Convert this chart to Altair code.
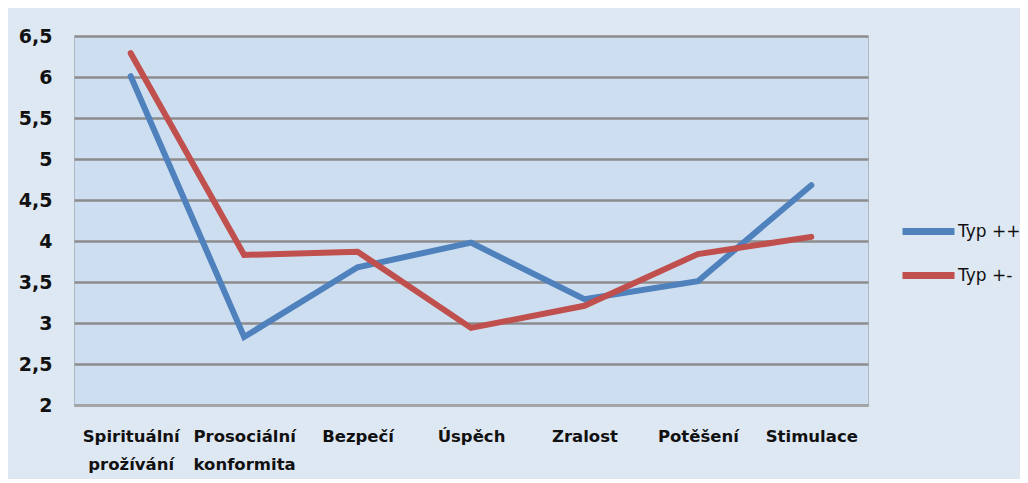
import altair as alt
import pandas as pd

categories = ["Spirituální prožívání", "Prosociální konformita", "Bezpečí", "Úspěch",
              "Zralost", "Potěšení", "Stimulace"]
typ_pp = [6.01, 2.83, 3.68, 3.98, 3.29, 3.51, 4.68]
typ_pm = [6.29, 3.83, 3.87, 2.94, 3.21, 3.84, 4.05]
series_names = ["Typ ++", "Typ +-"]
y_ticks = [2, 2.5, 3, 3.5, 4, 4.5, 5, 5.5, 6, 6.5]

rows = []
for name, vals in zip(series_names, [typ_pp, typ_pm]):
    for i, (c, v) in enumerate(zip(categories, vals)):
        rows.append({"kat": c, "hodnota": v, "typ": name, "order": i})
df = pd.DataFrame(rows)

chart = alt.Chart(df).mark_line(strokeWidth=6, strokeCap="round").encode(
    x=alt.X("kat:N", sort=categories, title=None,
            scale=alt.Scale(padding=0.5),
            axis=alt.Axis(labelAngle=0, labelExpr="split(datum.label, ' ')",
                          labelFont="DejaVu Sans", labelFontWeight="bold", labelFontSize=16.5,
                          labelColor="#111111", labelPadding=23, labelLineHeight=28,
                          ticks=False, domainColor="#a6a6a6", domainWidth=2,
                          grid=False, labelBaseline="top")),
    y=alt.Y("hodnota:Q", title=None,
            scale=alt.Scale(domain=[2, 6.5], nice=False, zero=False),
            axis=alt.Axis(values=y_ticks,
                          labelExpr="replace(toString(datum.value), '.', ',')",
                          labelFont="DejaVu Sans", labelFontWeight="bold", labelFontSize=19,
                          labelColor="#111111", labelPadding=22, ticks=False,
                          domain=False, grid=True, gridColor="#8c8c8c", gridWidth=2.5)),
    color=alt.Color("typ:N", sort=series_names, title=None,
                    scale=alt.Scale(domain=series_names, range=["#4F81BD", "#C0504D"]),
                    legend=alt.Legend(orient="none", legendX=825, legendY=166,
                                      symbolType="stroke", symbolSize=2704,
                                      symbolStrokeWidth=7, labelFont="DejaVu Sans",
                                      labelFontSize=17, labelColor="#111111",
                                      labelOffset=0, rowPadding=0)),
    order="order:O",
).properties(
    width=794, height=369,
    padding={"left": 66, "top": 28, "right": 152, "bottom": 74},
    autosize=alt.AutoSizeParams(type="none"),
    background="#DEE8F3",
).configure_view(
    fill="#CDDEF0", stroke="#b0b8c4", strokeWidth=1,
)

chart.save("out.html", embed_options={"renderer": "svg", "actions": False})
